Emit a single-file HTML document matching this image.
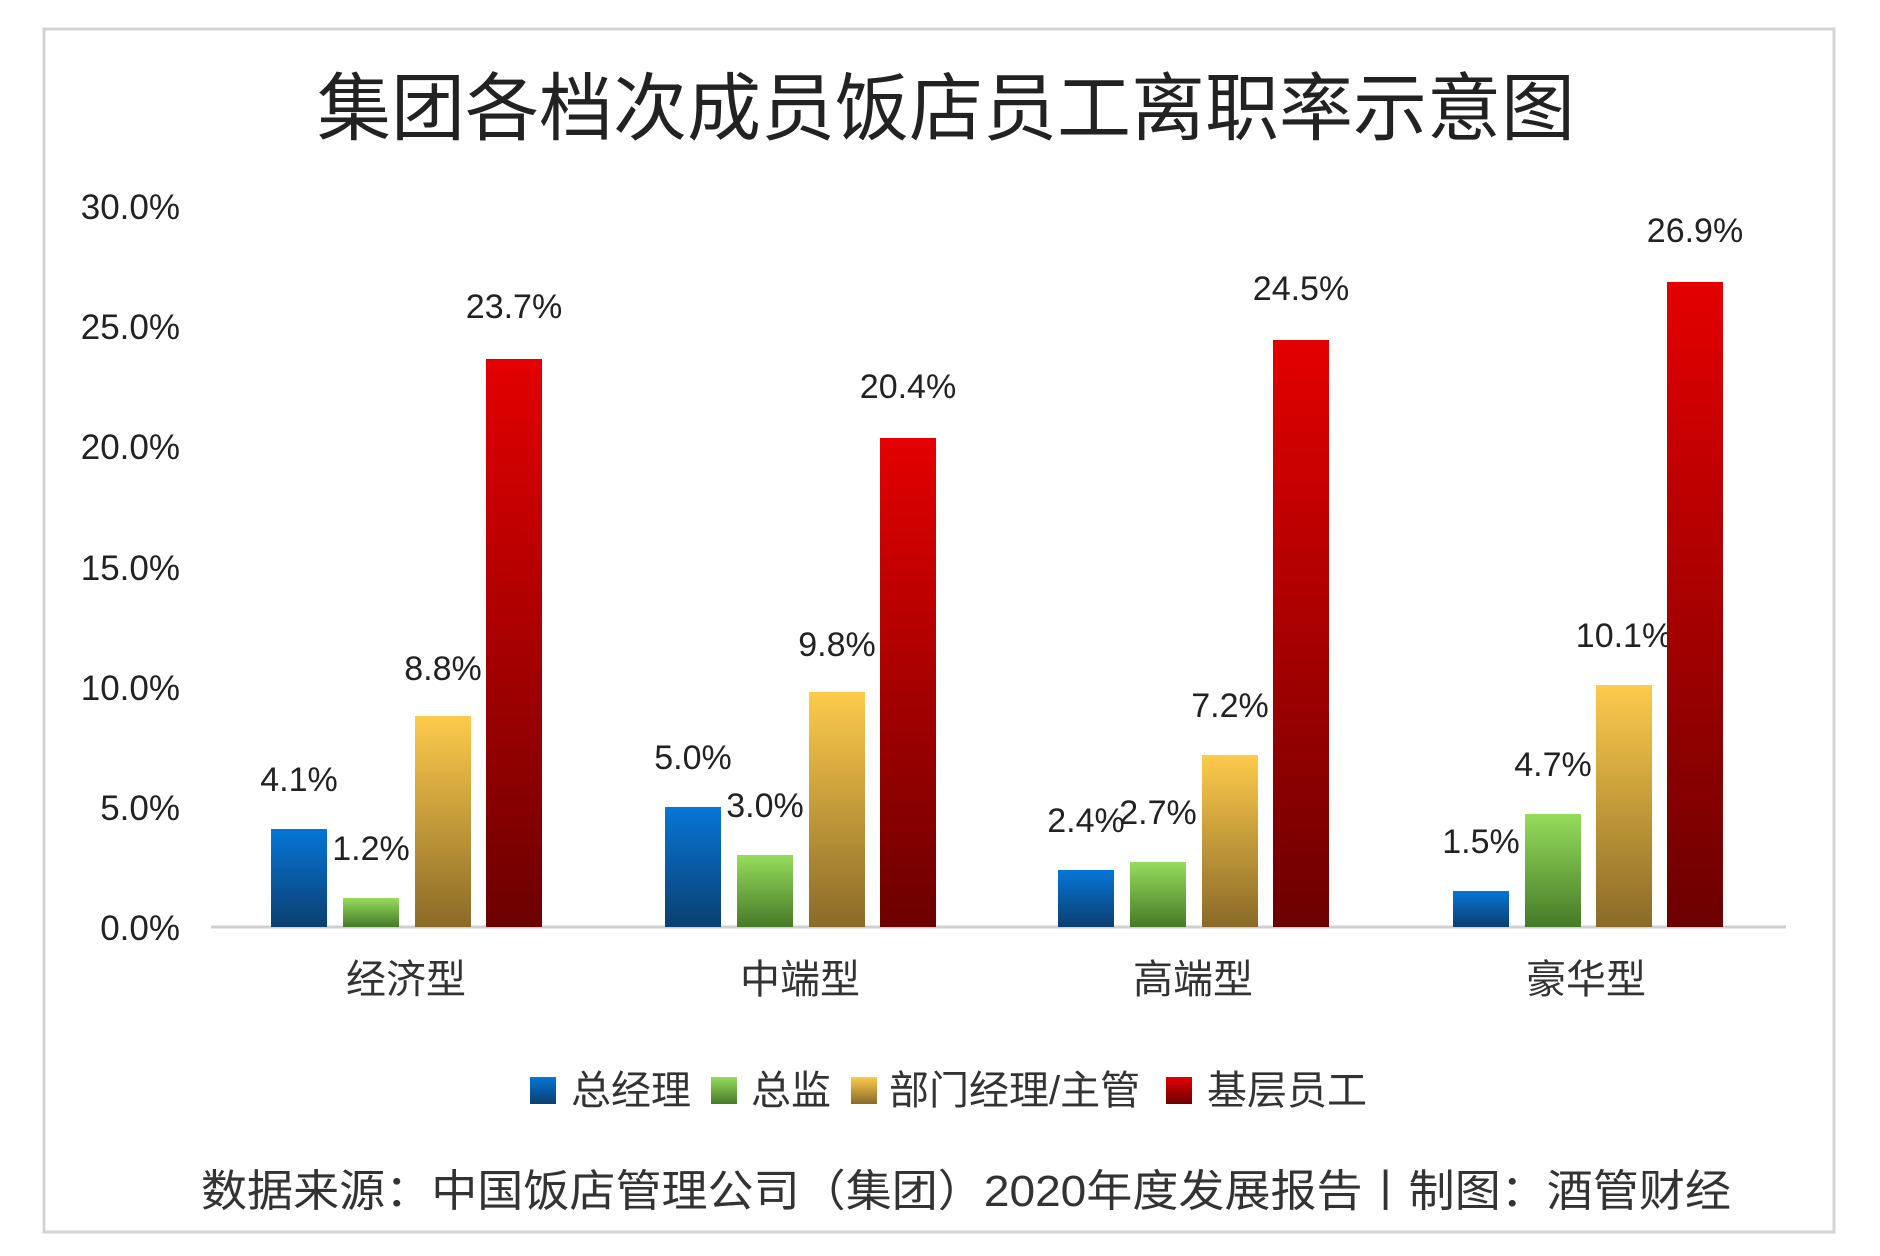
<!DOCTYPE html>
<html><head><meta charset="utf-8"><style>
html,body{margin:0;padding:0;background:#fff;}
svg{display:block;}
</style></head><body>
<svg width="1880" height="1256" viewBox="0 0 1880 1256" xmlns="http://www.w3.org/2000/svg" font-family="'Liberation Sans','Noto Sans CJK SC',sans-serif">
<defs>
<linearGradient id="gb" x1="0" y1="0" x2="0" y2="1"><stop offset="0" stop-color="#0676d6"/><stop offset="1" stop-color="#0b3f70"/></linearGradient>
<linearGradient id="gg" x1="0" y1="0" x2="0" y2="1"><stop offset="0" stop-color="#96dc5c"/><stop offset="1" stop-color="#467a28"/></linearGradient>
<linearGradient id="gy" x1="0" y1="0" x2="0" y2="1"><stop offset="0" stop-color="#fdcb4c"/><stop offset="1" stop-color="#8a6a28"/></linearGradient>
<linearGradient id="gr" x1="0" y1="0" x2="0" y2="1"><stop offset="0" stop-color="#e40000"/><stop offset="1" stop-color="#6c0000"/></linearGradient>
</defs>
<rect x="0" y="0" width="1880" height="1256" fill="#fff"/>
<rect x="44" y="29" width="1790" height="1203" fill="#fff" stroke="#d4d4d4" stroke-width="3"/>
<text x="946" y="134" text-anchor="middle" font-size="74" fill="#222">集团各档次成员饭店员工离职率示意图</text>
<g font-size="35" fill="#222" text-anchor="end">
<text x="180" y="219">30.0%</text>
<text x="180" y="339">25.0%</text>
<text x="180" y="459">20.0%</text>
<text x="180" y="580">15.0%</text>
<text x="180" y="700">10.0%</text>
<text x="180" y="820">5.0%</text>
<text x="180" y="940">0.0%</text>
</g>
<line x1="211" y1="927" x2="1786" y2="927" stroke="#d0d0d0" stroke-width="3"/>
<g id="bars"></g>
<g font-size="34" fill="#222" text-anchor="middle">
<!-- group1 start 211 -->
<rect x="271" y="829" width="56" height="98" fill="url(#gb)"/><text x="299" y="791">4.1%</text>
<rect x="343" y="898" width="56" height="29" fill="url(#gg)"/><text x="371" y="860">1.2%</text>
<rect x="415" y="716" width="56" height="211" fill="url(#gy)"/><text x="443" y="680">8.8%</text>
<rect x="486" y="359" width="56" height="568" fill="url(#gr)"/><text x="514" y="318">23.7%</text>
<!-- group2 start 604 -->
<rect x="665" y="807" width="56" height="120" fill="url(#gb)"/><text x="693" y="769">5.0%</text>
<rect x="737" y="855" width="56" height="72" fill="url(#gg)"/><text x="765" y="817">3.0%</text>
<rect x="809" y="692" width="56" height="235" fill="url(#gy)"/><text x="837" y="656">9.8%</text>
<rect x="880" y="438" width="56" height="489" fill="url(#gr)"/><text x="908" y="398">20.4%</text>
<!-- group3 start 997 -->
<rect x="1058" y="870" width="56" height="57" fill="url(#gb)"/><text x="1086" y="832">2.4%</text>
<rect x="1130" y="862" width="56" height="65" fill="url(#gg)"/><text x="1158" y="824">2.7%</text>
<rect x="1202" y="755" width="56" height="172" fill="url(#gy)"/><text x="1230" y="717">7.2%</text>
<rect x="1273" y="340" width="56" height="587" fill="url(#gr)"/><text x="1301" y="300">24.5%</text>
<!-- group4 start 1390 -->
<rect x="1453" y="891" width="56" height="36" fill="url(#gb)"/><text x="1481" y="853">1.5%</text>
<rect x="1525" y="814" width="56" height="113" fill="url(#gg)"/><text x="1553" y="776">4.7%</text>
<rect x="1596" y="685" width="56" height="242" fill="url(#gy)"/><text x="1624" y="647">10.1%</text>
<rect x="1667" y="282" width="56" height="645" fill="url(#gr)"/><text x="1695" y="242">26.9%</text>
</g>
<g font-size="40" fill="#333" text-anchor="middle">
<text x="406" y="993">经济型</text>
<text x="800" y="993">中端型</text>
<text x="1193" y="993">高端型</text>
<text x="1586" y="993">豪华型</text>
</g>
<g font-size="40" fill="#333">
<rect x="530" y="1077" width="26" height="27" fill="url(#gb)"/><text x="571" y="1104">总经理</text>
<rect x="711" y="1077" width="26" height="27" fill="url(#gg)"/><text x="751" y="1104">总监</text>
<rect x="851" y="1077" width="26" height="27" fill="url(#gy)"/><text x="889" y="1104">部门经理/主管</text>
<rect x="1166" y="1077" width="26" height="27" fill="url(#gr)"/><text x="1207" y="1104">基层员工</text>
</g>
<text x="201" y="1206" font-size="44" fill="#333" textLength="1530" lengthAdjust="spacingAndGlyphs">数据来源：中国饭店管理公司（集团）2020年度发展报告丨制图：酒管财经</text>
</svg>
</body></html>
